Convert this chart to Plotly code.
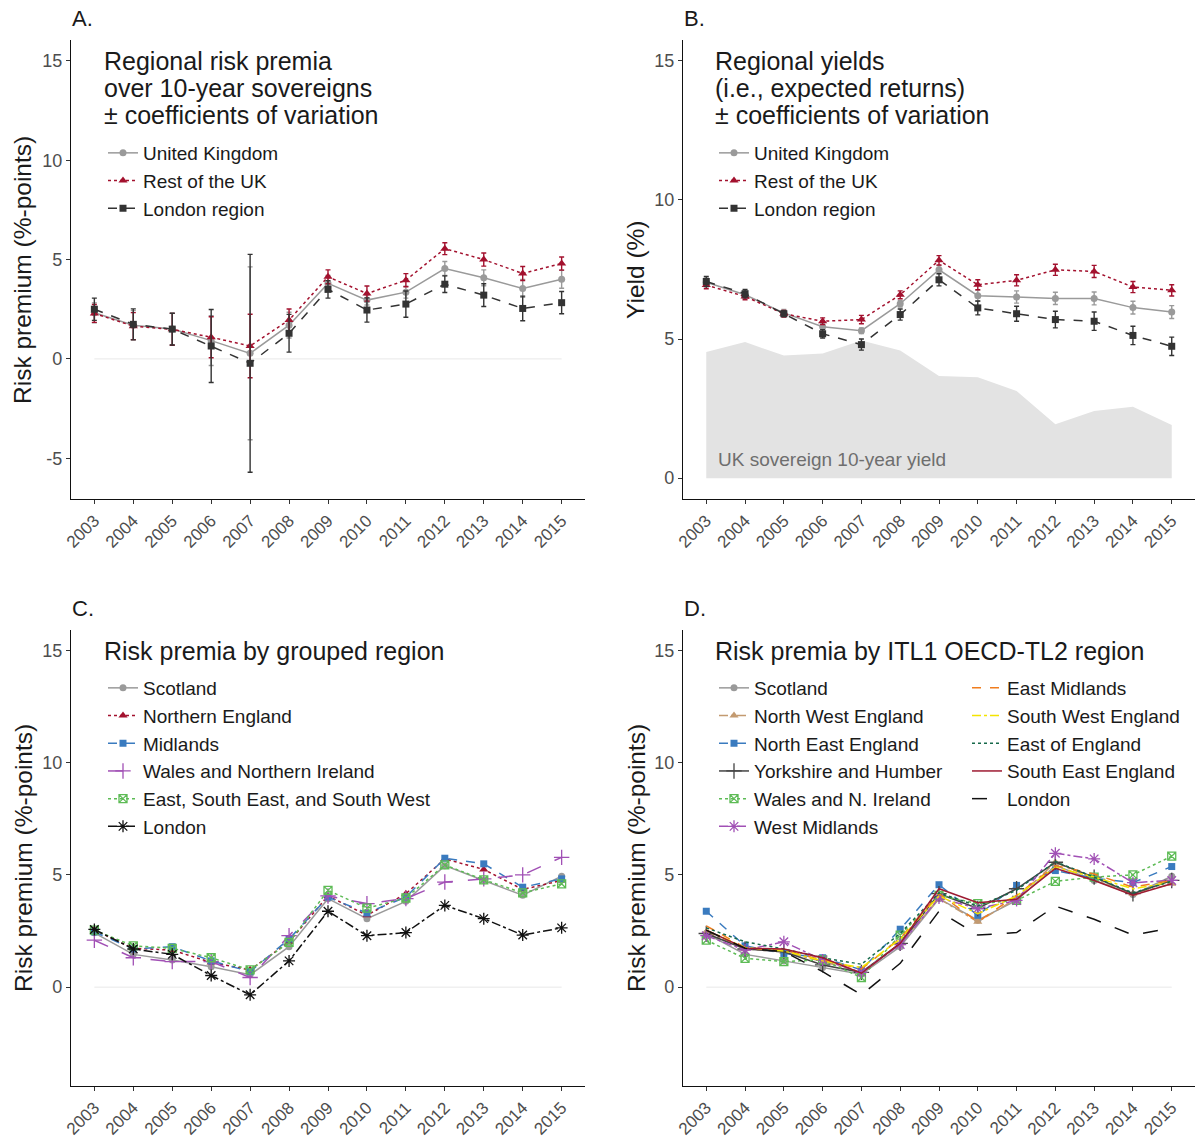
import plotly.graph_objects as go

# ---------------------------------------------------------------- data
YEARS = [2003, 2004, 2005, 2006, 2007, 2008, 2009, 2010, 2011, 2012, 2013, 2014, 2015]
YEAR_LABELS = [str(y) for y in YEARS]

# A. risk premia over 10-year sovereigns (%-points) and coefficients of variation
premia_uk = [2.32, 1.70, 1.50, 0.92, 0.28, 1.70, 3.80, 2.96, 3.36, 4.55, 4.08, 3.55, 4.01]
premia_uk_cv = [0.50, 0.73, 0.80, 1.25, 4.35, 0.65, 0.40, 0.25, 0.30, 0.35, 0.40, 0.45, 0.45]
premia_rest = [2.29, 1.65, 1.49, 1.09, 0.65, 1.96, 4.13, 3.29, 3.96, 5.55, 5.00, 4.30, 4.80]
premia_rest_cv = [0.45, 0.68, 0.80, 1.03, 1.60, 0.55, 0.35, 0.38, 0.33, 0.30, 0.33, 0.35, 0.33]
premia_london = [2.50, 1.74, 1.50, 0.65, -0.22, 1.29, 3.50, 2.46, 2.76, 3.76, 3.21, 2.54, 2.83]
premia_london_cv = [0.56, 0.78, 0.80, 1.84, 5.48, 0.95, 0.44, 0.61, 0.66, 0.42, 0.57, 0.62, 0.56]

# B. regional yields (%) and coefficients of variation
yield_uk = [7.04, 6.59, 5.94, 5.44, 5.30, 6.27, 7.49, 6.56, 6.51, 6.46, 6.46, 6.13, 5.97]
yield_uk_cv = [0.15, 0.12, 0.12, 0.10, 0.10, 0.12, 0.15, 0.20, 0.22, 0.22, 0.23, 0.23, 0.23]
yield_rest = [6.94, 6.53, 5.91, 5.64, 5.70, 6.59, 7.83, 6.95, 7.11, 7.49, 7.43, 6.87, 6.75]
yield_rest_cv = [0.13, 0.12, 0.12, 0.12, 0.15, 0.14, 0.17, 0.18, 0.20, 0.20, 0.22, 0.20, 0.20]
yield_london = [7.07, 6.63, 5.91, 5.19, 4.80, 5.88, 7.13, 6.12, 5.91, 5.70, 5.64, 5.13, 4.74]
yield_london_cv = [0.18, 0.15, 0.10, 0.15, 0.20, 0.20, 0.22, 0.25, 0.27, 0.30, 0.33, 0.33, 0.33]
uk_sovereign_10y = [4.53, 4.89, 4.41, 4.48, 4.95, 4.59, 3.67, 3.63, 3.13, 1.94, 2.41, 2.57, 1.91]

# C. risk premia by grouped region
grp_scotland = [2.42, 1.46, 1.21, 0.91, 0.55, 1.80, 3.94, 3.05, 3.82, 5.41, 4.75, 4.09, 4.94]
grp_northern_england = [2.54, 1.73, 1.65, 1.10, 0.77, 2.02, 4.06, 3.20, 4.16, 5.71, 5.24, 4.35, 4.75]
grp_midlands = [2.46, 1.70, 1.80, 1.17, 0.69, 2.14, 4.01, 3.30, 4.01, 5.74, 5.49, 4.45, 4.82]
grp_wales_ni = [2.09, 1.31, 1.14, 1.14, 0.43, 2.29, 4.06, 3.72, 3.94, 4.68, 4.82, 5.00, 5.78]
grp_east_se_sw = [2.54, 1.84, 1.73, 1.31, 0.77, 1.99, 4.31, 3.52, 3.97, 5.44, 4.78, 4.20, 4.60]
grp_london = [2.57, 1.70, 1.46, 0.52, -0.34, 1.17, 3.38, 2.29, 2.43, 3.64, 3.05, 2.32, 2.64]

# D. risk premia by ITL1 region
itl_scotland = [2.39, 1.46, 1.17, 0.87, 0.58, 1.80, 3.94, 2.98, 3.86, 5.41, 4.75, 4.12, 4.94]
itl_north_west = [2.46, 1.70, 1.58, 1.14, 0.66, 1.95, 3.94, 2.91, 3.94, 5.56, 4.82, 4.16, 4.60]
itl_north_east = [3.38, 1.84, 1.50, 1.31, 0.77, 2.58, 4.56, 3.20, 4.53, 5.19, 4.85, 4.65, 5.37]
itl_yorkshire = [2.39, 1.70, 1.58, 0.99, 0.66, 1.95, 4.16, 3.50, 4.38, 5.56, 4.90, 4.16, 4.75]
itl_wales_ni = [2.09, 1.28, 1.14, 1.21, 0.43, 2.32, 4.09, 3.72, 3.86, 4.71, 4.90, 5.00, 5.83]
itl_west_midlands = [2.29, 1.65, 2.02, 1.21, 0.66, 1.90, 3.97, 3.50, 3.86, 5.96, 5.71, 4.65, 4.75]
itl_east_midlands = [2.73, 1.76, 1.65, 1.21, 0.81, 2.17, 4.16, 2.91, 4.09, 5.41, 5.04, 4.45, 4.75]
itl_south_west = [2.54, 1.76, 1.61, 1.17, 0.87, 2.14, 4.06, 3.27, 4.06, 5.34, 4.90, 4.38, 4.68]
itl_east_of_england = [2.64, 2.02, 1.70, 1.31, 1.02, 2.39, 4.20, 3.61, 4.31, 5.59, 4.90, 4.20, 4.71]
itl_south_east = [2.54, 1.73, 1.70, 1.31, 0.62, 1.95, 4.38, 3.76, 3.91, 5.29, 4.75, 4.09, 4.60]
itl_london = [2.54, 1.73, 1.58, 0.69, -0.34, 1.06, 3.38, 2.32, 2.43, 3.61, 3.02, 2.32, 2.64]

# ---------------------------------------------------------------- layout helpers
W, H = 1198, 1140
FONT = "Liberation Sans, Arial, Helvetica, sans-serif"


def fx(px):
    return px / W


def fy(py):
    return 1 - py / H


GREY = "#9a9a9a"
RED = "#a3112e"
DARK = "#333333"
BLUE = "#3a7bbf"
PURPLE = "#a150b5"
GREEN = "#5dbb55"

fig = go.Figure()


def line_trace(x, y, name, color, dash, xa, ya, legend, symbol=None, msize=7,
               err=None, showlegend=True, width=1.5, mline=0):
    mode = "lines+markers" if symbol else "lines"
    kw = dict(x=x, y=y, name=name, mode=mode, xaxis=xa, yaxis=ya,
              line=dict(color=color, dash=dash, width=width),
              legend=legend, showlegend=showlegend)
    if symbol:
        kw["marker"] = dict(symbol=symbol, size=msize, color=color,
                            line=dict(color=color, width=mline))
    if err is not None:
        kw["error_y"] = dict(type="data", array=err, visible=True, color=color,
                             thickness=1.4, width=2.5)
    return go.Scatter(**kw)


def zero_line(xa, ya):
    return go.Scatter(x=YEARS, y=[0] * len(YEARS), mode="lines", xaxis=xa, yaxis=ya,
                      line=dict(color="#e8e8e8", width=1), showlegend=False,
                      hoverinfo="skip")


# ---------------- Panel A
fig.add_trace(zero_line("x", "y"))
fig.add_trace(line_trace(YEARS, premia_uk, "United Kingdom", GREY, "solid", "x", "y",
                         "legend", "circle", 7, premia_uk_cv))
fig.add_trace(line_trace(YEARS, premia_rest, "Rest of the UK", RED, "dot", "x", "y",
                         "legend", "triangle-up", 8, premia_rest_cv))
fig.add_trace(line_trace(YEARS, premia_london, "London region", DARK, "dash", "x", "y",
                         "legend", "square", 7, premia_london_cv))

# ---------------- Panel B
fig.add_trace(go.Scatter(x=YEARS, y=uk_sovereign_10y, mode="none", fill="tozeroy",
                         fillcolor="#e3e3e3", xaxis="x2", yaxis="y2",
                         showlegend=False, hoverinfo="skip"))
fig.add_trace(line_trace(YEARS, yield_uk, "United Kingdom", GREY, "solid", "x2", "y2",
                         "legend2", "circle", 7, yield_uk_cv))
fig.add_trace(line_trace(YEARS, yield_rest, "Rest of the UK", RED, "dot", "x2", "y2",
                         "legend2", "triangle-up", 8, yield_rest_cv))
fig.add_trace(line_trace(YEARS, yield_london, "London region", DARK, "dash", "x2", "y2",
                         "legend2", "square", 7, yield_london_cv))

# ---------------- Panel C
fig.add_trace(zero_line("x3", "y3"))
fig.add_trace(line_trace(YEARS, grp_scotland, "Scotland", GREY, "solid", "x3", "y3",
                         "legend3", "circle", 7))
fig.add_trace(line_trace(YEARS, grp_northern_england, "Northern England", RED, "dot",
                         "x3", "y3", "legend3", "triangle-up", 8))
fig.add_trace(line_trace(YEARS, grp_midlands, "Midlands", BLUE, "dash", "x3", "y3",
                         "legend3", "square", 7))
fig.add_trace(line_trace(YEARS, grp_wales_ni, "Wales and Northern Ireland", PURPLE,
                         "longdash", "x3", "y3", "legend3", "cross-thin-open", 11,
                         mline=1.3))
fig.add_trace(line_trace(YEARS, grp_east_se_sw, "East, South East, and South West",
                         GREEN, "dot", "x3", "y3", "legend3", "square-x-open", 8,
                         mline=1.3))
fig.add_trace(line_trace(YEARS, grp_london, "London", "#111111", "dashdot", "x3", "y3",
                         "legend3", "asterisk-open", 10, mline=1.3))

# ---------------- Panel D
fig.add_trace(zero_line("x4", "y4"))
d_left = [
    (itl_scotland, "Scotland", GREY, "solid", "circle", 7, 0),
    (itl_north_west, "North West England", "#c39a70", "dashdot", "triangle-up", 8, 0),
    (itl_north_east, "North East England", BLUE, "dash", "square", 7, 0),
    (itl_yorkshire, "Yorkshire and Humber", "#444444", "solid", "cross-thin-open", 11, 1.3),
    (itl_wales_ni, "Wales and N. Ireland", GREEN, "dot", "square-x-open", 8, 1.3),
    (itl_west_midlands, "West Midlands", PURPLE, "dashdot", "asterisk-open", 10, 1.3),
]
d_right = [
    (itl_east_midlands, "East Midlands", "#f07d1e", "dash"),
    (itl_south_west, "South West England", "#f4e400", "dashdot"),
    (itl_east_of_england, "East of England", "#16694a", "dot"),
    (itl_south_east, "South East England", "#9e1b32", "solid"),
    (itl_london, "London", "#111111", "longdash"),
]
for vals, name, col, dash, sym, size, ml in d_left:
    fig.add_trace(line_trace(YEARS, vals, name, col, dash, "x4", "y4", "legend4",
                             sym, size, mline=ml))
for vals, name, col, dash in d_right:
    fig.add_trace(line_trace(YEARS, vals, name, col, dash, "x4", "y4", "legend5"))

# ---------------------------------------------------------------- axes
TICKFONT = dict(size=17, color="#4d4d4d", family=FONT)


def xaxis(dom, anchor):
    return dict(domain=[fx(dom[0]), fx(dom[1])], anchor=anchor, range=[2002.4, 2015.6],
                tickvals=YEARS, ticktext=YEAR_LABELS, tickangle=-45,
                showline=True, linecolor="#111111", linewidth=1.3, ticks="outside",
                ticklen=4, tickwidth=1.2, tickcolor="#333333", showgrid=False,
                zeroline=False, tickfont=TICKFONT, automargin=False, fixedrange=True)


def yaxis(dom, anchor, rng, tv):
    return dict(domain=[fy(dom[1]), fy(dom[0])], anchor=anchor, range=rng,
                tickvals=tv, ticktext=[str(v) for v in tv],
                showline=True, linecolor="#111111", linewidth=1.3, ticks="outside",
                ticklen=4, tickwidth=1.2, tickcolor="#333333", showgrid=False,
                zeroline=False, tickfont=dict(TICKFONT, size=18), automargin=False,
                fixedrange=True)


LEFT = (71, 585)
RIGHT = (683, 1195)
TOP = (40, 499)
BOTTOM = (630, 1086)

legend_common = dict(bgcolor="rgba(0,0,0,0)", font=dict(size=19, color="#1a1a1a", family=FONT),
                     xanchor="left", yanchor="top", traceorder="normal",
                     itemclick=False, itemdoubleclick=False)

fig.update_layout(
    width=W, height=H,
    margin=dict(l=0, r=0, t=0, b=0, autoexpand=False),
    paper_bgcolor="white", plot_bgcolor="white",
    font=dict(family=FONT, color="#1a1a1a"),
    xaxis=xaxis(LEFT, "y"),
    yaxis=yaxis(TOP, "x", [-7.05, 16.05], [-5, 0, 5, 10, 15]),
    xaxis2=xaxis(RIGHT, "y2"),
    yaxis2=yaxis(TOP, "x2", [-0.75, 15.75], [0, 5, 10, 15]),
    xaxis3=xaxis(LEFT, "y3"),
    yaxis3=yaxis(BOTTOM, "x3", [-4.4, 15.9], [0, 5, 10, 15]),
    xaxis4=xaxis(RIGHT, "y4"),
    yaxis4=yaxis(BOTTOM, "x4", [-4.4, 15.9], [0, 5, 10, 15]),
    legend=dict(x=fx(103), y=fy(134), **legend_common),
    legend2=dict(x=fx(714), y=fy(134), **legend_common),
    legend3=dict(x=fx(103), y=fy(669), **legend_common),
    legend4=dict(x=fx(714), y=fy(669), **legend_common),
    legend5=dict(x=fx(967), y=fy(669), **legend_common),
    showlegend=True,
)

# ---------------------------------------------------------------- text
ann = []


def text(px, py, s, size, color="#1a1a1a", angle=0, xanchor="left", yanchor="middle"):
    ann.append(dict(x=fx(px), y=fy(py), xref="paper", yref="paper", text=s,
                    showarrow=False, xanchor=xanchor, yanchor=yanchor, textangle=angle,
                    font=dict(size=size, color=color, family=FONT)))


# panel tags
text(70, 18, "A.", 22)
text(682, 18, "B.", 22)
text(70, 608, "C.", 22)
text(682, 608, "D.", 22)

# panel headings
for i, line in enumerate(["Regional risk premia", "over 10-year sovereigns",
                          "± coefficients of variation"]):
    text(102, 61 + 27 * i, line, 25)
for i, line in enumerate(["Regional yields", "(i.e., expected returns)",
                          "± coefficients of variation"]):
    text(713, 61 + 27 * i, line, 25)
text(102, 651, "Risk premia by grouped region", 25)
text(713, 651, "Risk premia by ITL1 OECD-TL2 region", 25)

# axis titles
text(23, 270, "Risk premium (%-points)", 24.5, angle=-90, xanchor="center")
text(636, 270, "Yield (%)", 24.5, angle=-90, xanchor="center")
text(23, 858, "Risk premium (%-points)", 24.5, angle=-90, xanchor="center")
text(636, 858, "Risk premium (%-points)", 24.5, angle=-90, xanchor="center")

# label inside the sovereign-yield area
ann.append(dict(x=2003.25, y=0.68, xref="x2", yref="y2", text="UK sovereign 10-year yield",
                showarrow=False, xanchor="left", yanchor="middle",
                font=dict(size=19, color="#6e6e6e", family=FONT)))

fig.update_layout(annotations=ann)

fig.write_html("out.html")
